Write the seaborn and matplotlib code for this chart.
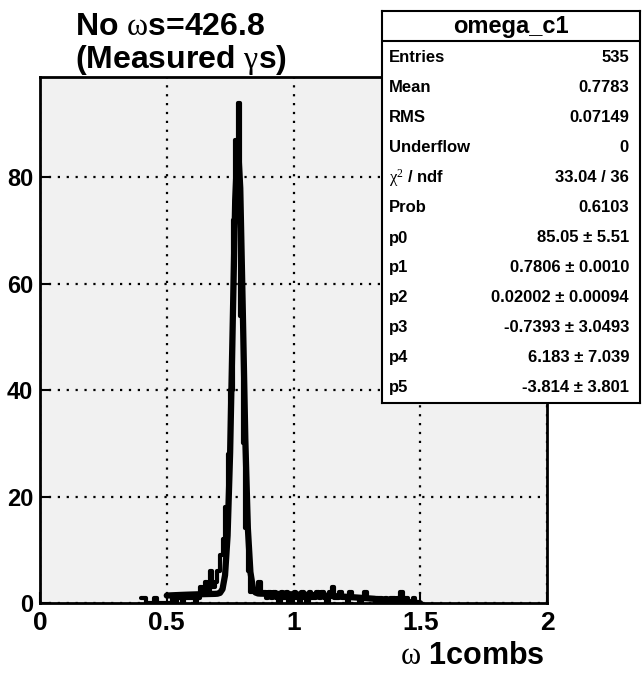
import numpy as np
import pandas as pd
import matplotlib
matplotlib.use("Agg")
import matplotlib.pyplot as plt
import seaborn as sns

# histogram: 0.01 wide bins from 0.40 to 1.50
bin_lo = 0.40
bin_w = 0.01
counts = [
    1, 1, 0, 0, 0, 1, 0, 0, 0, 0,        # 0.40-0.50
    0, 0, 1, 0, 1, 1, 0, 1, 1, 1,        # 0.50-0.60
    1, 0, 1, 3, 2, 4, 2, 6, 3, 4,        # 0.60-0.70
    6, 9, 12, 18, 28, 40, 72, 87, 94, 54,  # 0.70-0.80
    30, 14, 6, 2, 2, 2, 4, 2, 2, 1,      # 0.80-0.90
    2, 1, 2, 1, 0, 2, 1, 2, 0, 1,        # 0.90-1.00
    2, 1, 0, 2, 1, 0, 2, 1, 1, 2,        # 1.00-1.10
    1, 2, 1, 0, 2, 3, 1, 1, 2, 1,        # 1.10-1.20
    1, 0, 2, 1, 1, 1, 0, 1, 2, 1,        # 1.20-1.30
    1, 1, 0, 1, 1, 0, 1, 0, 1, 1,        # 1.30-1.40
    0, 1, 2, 0, 1, 0, 0, 1, 0, 0,        # 1.40-1.50
]

# fit parameters (gaus + pol2) as shown in the stats box
p = [85.05, 0.7806, 0.02002, -0.7393, 6.183, -3.814]
fit_range = (0.5, 1.5)

stat_labels = ["Entries", "Mean", "RMS", "Underflow", r"$\mathrm{χ}^{2}$ / ndf", "Prob",
               "p0", "p1", "p2", "p3", "p4", "p5"]
stat_values = ["535", "0.7783", "0.07149", "0", "33.04 / 36", "0.6103",
               "85.05 ± 5.51", "0.7806 ± 0.0010", "0.02002 ± 0.00094",
               "-0.7393 ± 3.0493", "6.183 ± 7.039", "-3.814 ± 3.801"]

sns.set_theme(style="ticks")
plt.rcParams["font.family"] = ["Liberation Sans", "DejaVu Sans"]
plt.rcParams["mathtext.fontset"] = "custom"
plt.rcParams["mathtext.rm"] = "Liberation Serif"
plt.rcParams["mathtext.it"] = "Liberation Serif"
plt.rcParams["text.color"] = "black"
plt.rcParams["xtick.color"] = "black"
plt.rcParams["ytick.color"] = "black"
plt.rcParams["xtick.labelcolor"] = "black"
plt.rcParams["ytick.labelcolor"] = "black"

W, H = 642, 676
fig = plt.figure(figsize=(W / 100, H / 100), dpi=100)
fig.patch.set_facecolor("white")

ax = fig.add_axes([40 / W, 1 - 603 / H, 507 / W, 526 / H])
ax.set_facecolor("#f1f1f1")

n_bins = len(counts)
centers = bin_lo + bin_w * (np.arange(n_bins) + 0.5)
hist_df = pd.DataFrame({"x": centers, "n": counts})
sns.histplot(data=hist_df, x="x", weights="n", binwidth=bin_w,
             binrange=(bin_lo, bin_lo + bin_w * n_bins), element="step",
             fill=False, color="black", linewidth=3, ax=ax)

xf = np.linspace(fit_range[0], fit_range[1], 101)
yf = p[0] * np.exp(-0.5 * ((xf - p[1]) / p[2]) ** 2) + p[3] + p[4] * xf + p[5] * xf ** 2
fit_df = pd.DataFrame({"x": xf, "y": yf})
sns.lineplot(data=fit_df, x="x", y="y", color="black", linewidth=4.5, ax=ax,
             estimator=None, sort=False)

ax.set_xlim(0, 2)
ax.set_ylim(0, 98.8)
ax.set_xticks([0, 0.5, 1, 1.5, 2])
ax.set_xticklabels(["0", "0.5", "1", "1.5", "2"])
ax.set_yticks([0, 20, 40, 60, 80])
ax.set_xlabel("")
ax.set_ylabel("")
ax.grid(True, color="black", linestyle=(0, (1, 3)), linewidth=1.6)
ax.tick_params(direction="in", length=8, width=1.5, color="black")
ax.tick_params(axis="x", labelsize=19, pad=6)
ax.tick_params(axis="y", labelsize=17, pad=5)
for lab in ax.get_xticklabels() + ax.get_yticklabels():
    lab.set_fontweight("bold")
for s in ax.spines.values():
    s.set_linewidth(2)
    s.set_color("black")

# title and axis label
fig.text(75 / W, 1 - 35 / H, r"No $\mathrm{ω}$s=426.8", fontsize=23,
         fontweight="bold", ha="left", va="baseline")
fig.text(75 / W, 1 - 68 / H, r"(Measured $\mathrm{γ}$s)", fontsize=23,
         fontweight="bold", ha="left", va="baseline")
fig.text(545 / W, 1 - 664 / H, r"$\mathrm{ω}$ 1combs", fontsize=22,
         fontweight="bold", ha="right", va="baseline")

# stats box
bx0, by0, bx1, by1 = 382, 403, 640, 11
box = fig.add_axes([bx0 / W, 1 - by0 / H, (bx1 - bx0) / W, (by0 - by1) / H])
box.set_xlim(bx0, bx1)
box.set_ylim(by0, by1)
box.set_xticks([])
box.set_yticks([])
box.set_facecolor("white")
for s in box.spines.values():
    s.set_linewidth(1.5)
    s.set_color("black")
box.axhline(41, color="black", linewidth=1.5)
box.text((bx0 + bx1) / 2, 26, "omega_c1", fontsize=17, fontweight="bold",
         ha="center", va="center")
row_y = np.linspace(58, 388, len(stat_labels))
for y, lab, val in zip(row_y, stat_labels, stat_values):
    box.text(389, y, lab, fontsize=12, fontweight="bold", ha="left", va="center")
    box.text(629, y, val, fontsize=12, fontweight="bold", ha="right", va="center")

fig.savefig("out.png", dpi=100)
plt.close(fig)
